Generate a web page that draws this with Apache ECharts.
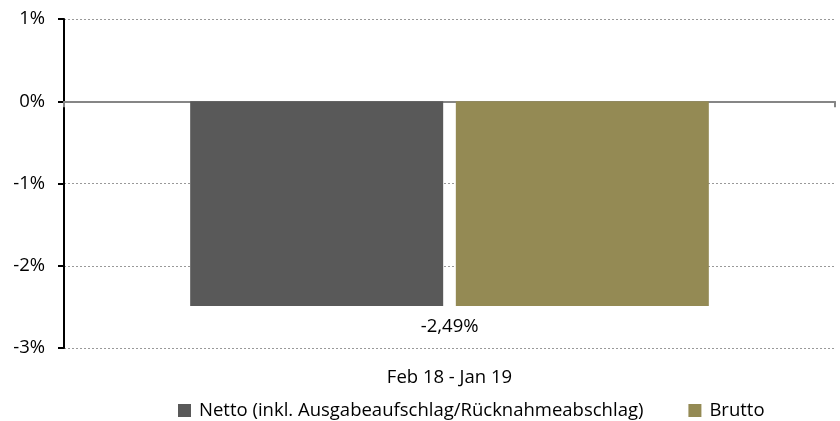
<!DOCTYPE html>
<html>
<head>
<meta charset="utf-8">
<script src="https://cdn.jsdelivr.net/npm/echarts@6/dist/echarts.min.js"></script>
<style>
  html, body { margin: 0; padding: 0; background: #fff; }
  #chart { width: 840px; height: 421px; }
</style>
</head>
<body>
<div id="chart"></div>
<script>
const categories = ['Feb 18 - Jan 19']
const nettoValues = [-2.49]
const bruttoValues = [-2.49]
const yTicks = [-3, -2, -1, 0, 1]

const font = '"Open Sans", Lato, sans-serif'
const fontSize = 18.5
const chart = echarts.init(document.getElementById('chart'))

const options = {
  backgroundColor: '#fff',
  animation: false,
  grid: {
    left: 64,
    right: 5,
    top: 19,
    bottom: 73,
    containLabel: false
  },
  legend: {
    top: 396,
    left: 173,
    itemWidth: 13,
    itemHeight: 13,
    itemGap: 45,
    icon: 'rect',
    textStyle: { color: '#000', fontSize: fontSize, fontFamily: font, padding: [0, 0, 0, 3] },
    data: ['Netto (inkl. Ausgabeaufschlag/Rücknahmeabschlag)', 'Brutto']
  },
  xAxis: [{
    type: 'category',
    data: categories,
    position: 'bottom',
    axisLine: { show: false, onZero: false },
    axisTick: { show: false },
    axisLabel: { color: '#000', fontSize: fontSize, fontFamily: font, margin: 20 }
  }, {
    type: 'category',
    data: categories,
    position: 'bottom',
    axisLine: { show: true, onZero: true, lineStyle: { color: '#868686', width: 2 } },
    axisTick: { show: true, length: 6, lineStyle: { color: '#868686', width: 2 } },
    axisLabel: { show: false }
  }],
  yAxis: {
    type: 'value',
    min: yTicks[0],
    max: yTicks[yTicks.length - 1],
    interval: 1,
    axisLine: { show: true, lineStyle: { color: '#000', width: 2 } },
    axisTick: { show: true, length: 6, lineStyle: { color: '#000', width: 2 } },
    axisLabel: {
      color: '#000',
      fontSize: fontSize,
      fontFamily: font,
      margin: 19,
      formatter: v => v + '%'
    },
    splitLine: { show: true, lineStyle: { color: '#999', type: [2, 2], width: 1 } }
  },
  series: [{
    name: 'Netto (inkl. Ausgabeaufschlag/Rücknahmeabschlag)',
    type: 'bar',
    xAxisIndex: 0,
    data: nettoValues,
    barWidth: 253,
    barGap: '5%',
    itemStyle: { color: '#595959' },
    label: {
      show: true,
      position: 'bottom',
      distance: 11,
      offset: [133, 0],
      color: '#000',
      fontSize: fontSize,
      fontFamily: font,
      formatter: p => p.value.toFixed(2).replace('.', ',') + '%'
    }
  }, {
    name: 'Brutto',
    type: 'bar',
    xAxisIndex: 0,
    data: bruttoValues,
    barWidth: 253,
    itemStyle: { color: '#948A54' }
  }]
}

chart.setOption(options)
</script>
</body>
</html>
